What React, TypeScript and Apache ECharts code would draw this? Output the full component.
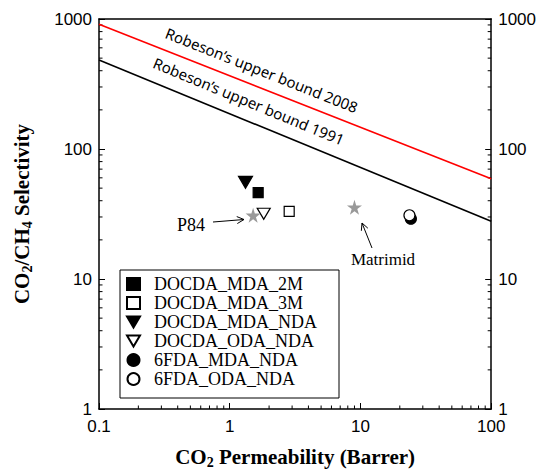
import React, { useEffect, useRef } from 'react';
import * as echarts from 'echarts';

// Membrane samples
const SAMPLE_NAMES = ['DOCDA_MDA_2M', 'DOCDA_MDA_3M', 'DOCDA_MDA_NDA', 'DOCDA_ODA_NDA', '6FDA_MDA_NDA', '6FDA_ODA_NDA'];
const SAMPLE_PERM = [1.65, 2.85, 1.32, 1.82, 24.3, 23.7];
const SAMPLE_SEL = [46.2, 33.1, 55.4, 31.8, 29.1, 30.9];

// Reference polymers (grey stars)
const REF_NAMES = ['P84', 'Matrimid'];
const REF_PERM = [1.51, 9.0];
const REF_SEL = [30.9, 35.7];

// Robeson upper bounds (straight lines on log-log)
const BOUND_PERM = [0.1, 100];
const BOUND_2008 = [912, 59];
const BOUND_1991 = [484, 27.8];

// Axis ticks
const X_TICKS = [0.1, 1, 10, 100];
const Y_TICKS = [1, 10, 100, 1000];
const MINOR_MULT = [2, 3, 4, 5, 6, 7, 8, 9];

const SERIF = 'Liberation Serif, Times New Roman, serif';
const SANS = 'Liberation Sans, Arial, sans-serif';

const TRI_DOWN = 'path://M0,0 L14,0 L7,12 Z';
const STAR = 'path://M50,0 L61,35 L98,35 L68,57 L79,91 L50,70 L21,91 L32,57 L2,35 L39,35 Z';

const STYLES = [
  { symbol: 'rect', size: 10, fill: '#000' },
  { symbol: 'rect', size: 10, fill: '#fff' },
  { symbol: TRI_DOWN, size: [14, 12], fill: '#000' },
  { symbol: TRI_DOWN, size: [13, 11], fill: '#fff' },
  { symbol: 'circle', size: 11, fill: '#000' },
  { symbol: 'circle', size: 11, fill: '#fff' },
];

function arrow(x1: number, y1: number, x2: number, y2: number) {
  const dx = x2 - x1, dy = y2 - y1;
  const L = Math.hypot(dx, dy);
  const ux = dx / L, uy = dy / L;
  const px = -uy, py = ux;
  const hl = 7, hw = 3.5;
  const bx = x2 - ux * hl, by = y2 - uy * hl;
  return [
    { type: 'line', shape: { x1, y1, x2, y2 }, style: { stroke: '#000', lineWidth: 1 } },
    {
      type: 'polyline',
      shape: { points: [[bx + px * hw, by + py * hw], [x2, y2], [bx - px * hw, by - py * hw]] },
      style: { stroke: '#000', lineWidth: 1, fill: null },
    },
  ];
}

const fmt = (v: number) => String(+Number(v).toPrecision(6));

export default function App() {
  const ref = useRef<HTMLDivElement>(null);
  useEffect(() => {
    const chart = echarts.init(ref.current!, null, { renderer: 'svg' });

    const minorData: number[][] = [];
    X_TICKS.slice(0, -1).forEach((d) => MINOR_MULT.forEach((m) => minorData.push([d * m, 1, 0])));
    Y_TICKS.slice(0, -1).forEach((d) =>
      MINOR_MULT.forEach((m) => {
        minorData.push([0.1, d * m, 1]);
        minorData.push([100, d * m, 2]);
      })
    );

    const nameRich = {
      b: { fontFamily: SERIF, fontWeight: 'bold', fontSize: 21, color: '#000' },
      s: { fontFamily: SERIF, fontWeight: 'bold', fontSize: 14, color: '#000', padding: [11, 0, 0, 0] },
    };

    const axisCommon = {
      type: 'log',
      logBase: 10,
      splitLine: { show: false },
      axisLine: { show: true, lineStyle: { color: '#000', width: 1.5 } },
      axisTick: { show: true, inside: true, length: 6, lineStyle: { color: '#000', width: 1 } },
      axisLabel: { fontFamily: SANS, fontSize: 17, color: '#000', margin: 7, formatter: fmt },
    };

    const sampleSeries = SAMPLE_NAMES.map((name, i) => ({
      name,
      type: 'scatter',
      symbol: STYLES[i].symbol,
      symbolSize: STYLES[i].size,
      itemStyle: { color: STYLES[i].fill, borderColor: '#000', borderWidth: 1.2, opacity: 1 },
      data: [[SAMPLE_PERM[i], SAMPLE_SEL[i]]],
      z: 5,
    }));

    const option = {
      animation: false,
      backgroundColor: '#fff',
      grid: { left: 99, top: 19, width: 394, height: 394 },
      xAxis: [
        {
          ...axisCommon,
          axisLabel: { ...axisCommon.axisLabel, margin: 9 },
          min: 0.1,
          max: 100,
          position: 'bottom',
          name: '{b|CO}{s|2}{b| Permeability (Barrer)}',
          nameLocation: 'middle',
          nameGap: 35,
          nameTextStyle: { rich: nameRich },
        },
        {
          type: 'log',
          min: 0.1,
          max: 100,
          position: 'top',
          splitLine: { show: false },
          axisLine: { show: true, lineStyle: { color: '#000', width: 1.5 } },
          axisTick: { show: false },
          axisLabel: { show: false },
        },
      ],
      yAxis: [
        {
          ...axisCommon,
          min: 1,
          max: 1000,
          position: 'left',
          name: '{b|CO}{s|2}{b|/CH}{s|4}{b| Selectivity}',
          nameLocation: 'middle',
          nameGap: 65,
          nameRotate: 90,
          nameTextStyle: { rich: nameRich },
        },
        {
          ...axisCommon,
          min: 1,
          max: 1000,
          position: 'right',
        },
      ],
      legend: {
        orient: 'vertical',
        left: 120,
        top: 270,
        data: SAMPLE_NAMES,
        backgroundColor: '#fff',
        borderColor: '#000',
        borderWidth: 1,
        padding: [5, 22, 10, 6],
        itemGap: 1,
        itemWidth: 13,
        itemHeight: 12,
        formatter: (n: string) => '  ' + n,
        textStyle: { fontFamily: SERIF, fontSize: 18, lineHeight: 16, color: '#000' },
      },
      series: [
        {
          name: 'Robeson 2008',
          type: 'line',
          data: BOUND_PERM.map((p, i) => [p, BOUND_2008[i]]),
          symbol: 'none',
          lineStyle: { color: '#ff0000', width: 1.6 },
          silent: true,
        },
        {
          name: 'Robeson 1991',
          type: 'line',
          data: BOUND_PERM.map((p, i) => [p, BOUND_1991[i]]),
          symbol: 'none',
          lineStyle: { color: '#000', width: 1.6 },
          silent: true,
        },
        ...sampleSeries,
        {
          name: 'Reference polymers',
          type: 'scatter',
          symbol: STAR,
          symbolSize: 15,
          itemStyle: { color: '#808080' },
          data: REF_NAMES.map((n, i) => ({ name: n, value: [REF_PERM[i], REF_SEL[i]] })),
          z: 6,
        },
        {
          name: 'minor ticks',
          type: 'custom',
          silent: true,
          clip: false,
          data: minorData,
          renderItem: (params: any, api: any) => {
            const pt = api.coord([api.value(0), api.value(1)]);
            const side = api.value(2);
            let x2 = pt[0], y2 = pt[1];
            if (side === 0) y2 -= 3.5;
            else if (side === 1) x2 += 3.5;
            else x2 -= 3.5;
            return {
              type: 'line',
              shape: { x1: pt[0], y1: pt[1], x2, y2 },
              style: { stroke: '#000', lineWidth: 1 },
            };
          },
        },
      ],
      graphic: [
        {
          type: 'text',
          x: 259,
          y: 77,
          rotation: -Math.atan(0.396),
          style: {
            text: 'Robeson\u2019s upper bound 2008',
            fontFamily: 'Noto Sans, sans-serif',
            fontSize: 15,
            fill: '#000',
            align: 'center',
            verticalAlign: 'bottom',
          },
        },
        {
          type: 'text',
          x: 246,
          y: 108,
          rotation: -Math.atan(0.4137),
          style: {
            text: 'Robeson\u2019s upper bound 1991',
            fontFamily: 'Noto Sans, sans-serif',
            fontSize: 15,
            fill: '#000',
            align: 'center',
            verticalAlign: 'bottom',
          },
        },
        {
          type: 'text',
          x: 191,
          y: 225,
          style: { text: 'P84', fontFamily: SERIF, fontSize: 18, fill: '#000', align: 'center', verticalAlign: 'middle' },
        },
        {
          type: 'text',
          x: 383,
          y: 259,
          style: { text: 'Matrimid', fontFamily: SERIF, fontSize: 17, fill: '#000', align: 'center', verticalAlign: 'middle' },
        },
        ...arrow(213, 222, 244, 219.5),
        ...arrow(372, 248, 362, 223),
      ],
    };

    chart.setOption(option as any);
    return () => chart.dispose();
  }, []);
  return <div ref={ref} style={{ position: 'absolute', left: 0, top: 0, width: 539, height: 474 }} />;
}
